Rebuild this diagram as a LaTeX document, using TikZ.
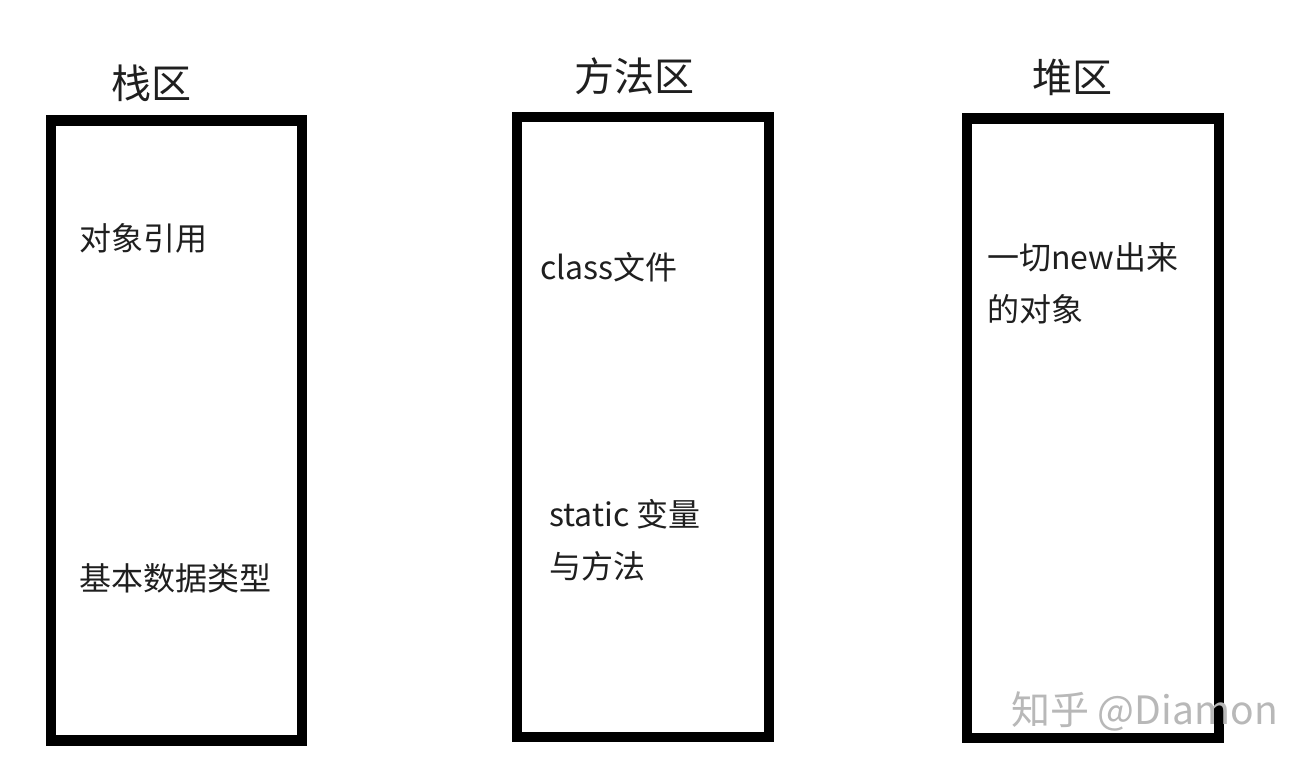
\documentclass[tikz,border=0pt]{standalone}
\usepackage{fontspec}
\setmainfont{Noto Sans CJK SC}
\begin{document}
\begin{tikzpicture}[x=1pt,y=-1pt,
  areabox/.style={draw=black,line width=10.5pt,rectangle,inner sep=0pt},
  title/.style={font=\fontsize{40}{44}\selectfont,text=black!88,inner sep=0pt},
  body/.style={font=\fontsize{32}{52}\selectfont,text=black!88,inner sep=0pt,anchor=west,align=left},
  wmtext/.style={font=\fontsize{39}{42}\selectfont,text=black!28,inner sep=0pt,anchor=west}]
\useasboundingbox (0,0) rectangle (1315,764);
\fill[white] (0,0) rectangle (1315,764);
% boxes
\node[areabox,minimum width=251pt,minimum height=620pt] (stack) at (176.5,430.5) {};
\node[areabox,minimum width=252pt,minimum height=620pt] (method) at (643,427) {};
\node[areabox,minimum width=252pt,minimum height=619.5pt] (heap) at (1093,428.25) {};
% titles
\node[title] (t1) at (151,83) {栈区};
\node[title] (t2) at (634,76) {方法区};
\node[title] (t3) at (1072,77) {堆区};
% contents
\node[body] (s1) at (79,238) {对象引用};
\node[body] (s2) at (79,578) {基本数据类型};
\node[body] (m1) at (540,267) {class文件};
\node[body,anchor=north west] (m2) at (549,499) {static 变量\\与方法};
\node[body,anchor=north west] (h1) at (987,242) {一切new出来\\的对象};
% watermark
\node[wmtext] (wm) at (1011,711) {知乎 @Diamon};
\end{tikzpicture}
\end{document}
